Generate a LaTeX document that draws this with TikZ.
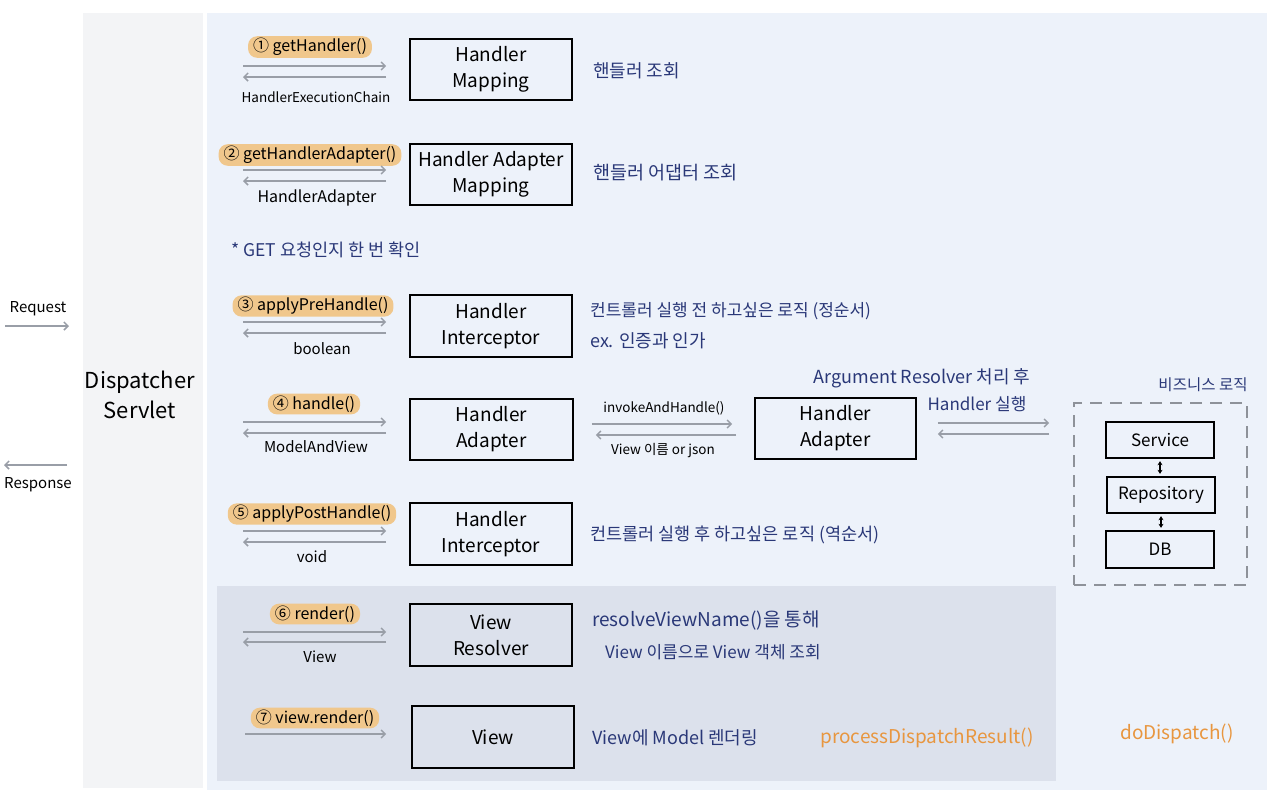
\documentclass[tikz,border=0pt]{standalone}
\usepackage{fontspec}
\newfontfamily\kr{Noto Sans CJK KR}
\usetikzlibrary{arrows.meta,calc}
\definecolor{leftbg}{HTML}{F3F4F6}
\definecolor{mainbg}{HTML}{EDF2FA}
\definecolor{lowbg}{HTML}{DCE1EC}
\definecolor{arrgray}{HTML}{999EA7}
\definecolor{hl}{HTML}{F0C78C}
\definecolor{navy}{HTML}{2A3878}
\definecolor{orng}{HTML}{E8963F}
\definecolor{dashgray}{HTML}{8E9299}
\newcommand\fsz[1]{\kr\fontsize{#1}{#1}\selectfont}
\tikzset{
  box/.style={draw=black, line width=1.6pt, minimum width=162pt, minimum height=61pt, align=center, inner sep=0pt, font=\kr\fontsize{19}{26}\selectfont},
  sbox/.style={draw=black, line width=1.4pt, minimum width=108pt, minimum height=36pt, inner sep=0pt, font=\fsz{17}},
  arr/.style={draw=arrgray, line width=1.5pt, -{Straight Barb[length=4pt,width=8pt]}},
  dbl/.style={draw=black, line width=1.1pt, {Stealth[length=4pt,width=5pt]}-{Stealth[length=4pt,width=5pt]}, shorten <=2.5pt, shorten >=2.5pt},
  call/.style={fill=hl, rounded corners=9pt, inner xsep=5pt, inner ysep=2pt, font=\fsz{16}},
  ret/.style={inner sep=0pt, font=\fsz{15}},
  note/.style={anchor=west, text=navy, inner sep=0pt, font=\fsz{16.5}},
  ctr/.style={text=navy, inner sep=0pt, font=\fsz{17}},
  orangetxt/.style={text=orng, inner sep=0pt, font=\fsz{19}},
  side/.style={inner sep=0pt, font=\fsz{15}},
}
\begin{document}
\begin{tikzpicture}[x=1pt,y=-1pt]
\useasboundingbox (0,0) rectangle (1280,807);
\fill[white] (0,0) rectangle (1280,807);
% panels
\fill[leftbg] (83,13) rectangle (203,788);
\fill[mainbg] (207,13) rectangle (1267,790);
\fill[lowbg] (217,586) rectangle (1056,781);

% Dispatcher servlet and request/response
\node[align=center, inner sep=0pt, font=\kr\fontsize{22}{30}\selectfont] (ds) at (140,395) {Dispatcher\\Servlet};
\node[side] (req) at (38,309) {Request};
\coordinate (reqa) at (5,326); \coordinate (reqb) at (69,326);
\draw[arr] (reqa) -- (reqb);
\node[side] (resp) at (38,485) {Response};
\coordinate (respa) at (67,465); \coordinate (respb) at (4,465);
\draw[arr] (respa) -- (respb);

% boxes
\node[box] (b1) at (491,69.5) {Handler\\Mapping};
\node[box] (b2) at (491,174.5) {Handler Adapter\\Mapping};
\node[box, minimum height=62pt] (b3) at (491,326) {Handler\\Interceptor};
\node[box, minimum width=163pt] (b4) at (491.5,429.5) {Handler\\Adapter};
\node[box, minimum height=62pt] (b5) at (491,534) {Handler\\Interceptor};
\node[box, minimum height=62pt] (b6) at (491,635) {View\\Resolver};
\node[box, minimum height=62pt] (b7) at (493,737) {View};
\node[box, minimum width=161pt] (ha) at (835.5,428.5) {Handler\\Adapter};

% call labels
\node[call] (l1) at (310,47) {① getHandler()};
\node[call] (l2) at (310,155) {② getHandlerAdapter()};
\node[call] (l3) at (313,306) {③ applyPreHandle()};
\node[call] (l4) at (314,404) {④ handle()};
\node[call] (l5) at (312,514) {⑤ applyPostHandle()};
\node[call] (l6) at (315,614) {⑥ render()};
\node[call] (l7) at (315,718) {⑦ view.render()};

% return labels
\node[ret, font=\fsz{13.5}] (r1) at (316,97) {HandlerExecutionChain};
\node[ret, font=\fsz{16}] (r2) at (317,198) {HandlerAdapter};
\node[ret] (r3) at (322,349) {boolean};
\node[ret] (r4) at (316,447) {ModelAndView};
\node[ret] (r5) at (312,557) {void};
\node[ret] (r6) at (320,657) {View};

% row arrows
\coordinate (c1a) at (243,66);  \coordinate (c1b) at (243,77);
\coordinate (c2a) at (243,170); \coordinate (c2b) at (243,181);
\coordinate (c3a) at (243,322); \coordinate (c3b) at (243,333);
\coordinate (c4a) at (243,422); \coordinate (c4b) at (243,433);
\coordinate (c5a) at (243,531); \coordinate (c5b) at (243,542);
\coordinate (c6a) at (243,632); \coordinate (c6b) at (243,642);
\coordinate (c7a) at (245,734);
\foreach \i in {1,...,6}{
  \draw[arr, shorten >=23pt] (c\i a) -- (c\i a -| b\i.west);
  \draw[arr, shorten <=23pt] (c\i b -| b\i.west) -- (c\i b);
}
\draw[arr, shorten >=25pt] (c7a) -- (c7a -| b7.west);

% descriptions
\node[note, font=\fsz{18}] (d1) at (593,71) {핸들러 조회};
\node[note, font=\fsz{18.5}] (d2) at (593,173) {핸들러 어댑터 조회};
\node[note, font=\fsz{17.5}] (get) at (231,250) {* GET 요청인지 한 번 확인};
\node[note, font=\fsz{17}] (d3) at (590,311) {컨트롤러 실행 전 하고싶은 로직 (정순서)};
\node[note, font=\fsz{18}] (d3b) at (590,341) {ex. 인증과 인가};
\node[note, font=\fsz{17.5}] (d5) at (590,535) {컨트롤러 실행 후 하고싶은 로직 (역순서)};
\node[note, font=\fsz{19}] (d6) at (592,620) {resolveViewName()을 통해};
\node[note, font=\fsz{17}] (d6b) at (605,652) {View 이름으로 View 객체 조회};
\node[note, font=\fsz{18}] (d7) at (592,738) {View에 Model 렌더링};

% handler adapter -> invoke
\node[ret, font=\fsz{13.5}] (inv) at (664,408) {invokeAndHandle()};
\node[ret, font=\fsz{13.5}] (vn) at (663,451) {View 이름 or json};
\draw[arr, shorten <=18pt, shorten >=22pt] ($(b4.east)+(0,-5.5)$) -- ($(ha.west)+(0,-4.5)$);
\draw[arr, shorten <=18pt, shorten >=22pt] ($(ha.west)+(0,6.5)$) -- ($(b4.east)+(0,5.5)$);
\node[ctr, font=\fsz{18}] (arg) at (922,378) {Argument Resolver 처리 후};
\node[ctr] (hx) at (977,404) {Handler 실행};

% business logic
\node[draw=dashgray, line width=1.6pt, dash pattern=on 12pt off 8pt, minimum width=173pt, minimum height=182pt, inner sep=0pt] (biz) at (1160.5,494) {};
\node[ctr, font=\fsz{15.5}] (bizl) at (1203,385) {비즈니스 로직};
\draw[arr, shorten <=21pt, shorten >=24pt] ($(ha.east)+(0,-5.5)$) -- ($(biz.west)+(0,-71)$);
\draw[arr, shorten <=24pt, shorten >=21pt] ($(biz.west)+(0,-60)$) -- ($(ha.east)+(0,5.5)$);
\node[sbox] (svc) at (1160,440) {Service};
\node[sbox] (repo) at (1161,495) {Repository};
\node[sbox, minimum height=37pt] (db) at (1160,549.5) {DB};
\draw[dbl] (svc) -- (svc |- repo.north);
\draw[dbl] (repo) -- (repo |- db.north);

% method names
\node[orangetxt] (pdr) at (927,738) {processDispatchResult()};
\node[orangetxt] (dd) at (1177,734) {doDispatch()};
\end{tikzpicture}
\end{document}
